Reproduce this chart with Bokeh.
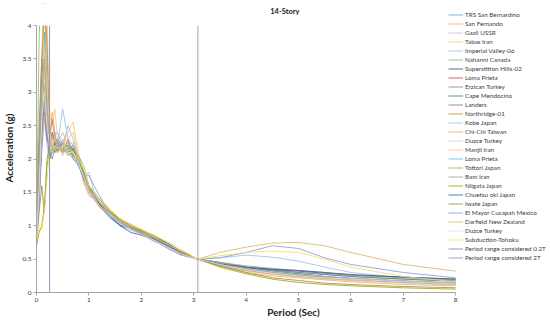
from bokeh.plotting import figure
from bokeh.models import Range1d, FixedTicker, NumeralTickFormatter, Legend, BoxAnnotation, Label
from bokeh.embed import file_html
from bokeh.resources import INLINE

periods = [0, 0.05, 0.1, 0.15, 0.2, 0.25, 0.3, 0.35, 0.4, 0.5, 0.6, 0.7, 0.8, 0.9, 1.0, 1.1, 1.2,
           1.4, 1.6, 1.8, 2.0, 2.25, 2.5, 2.75, 3.08, 3.5, 4.0, 4.5, 5.0, 5.5, 6.0, 7.0, 8.0]

names = ["TRS San Bernardino", "San Fernando", "Gazli USSR", "Tabas Iran", "Imperial Valley-06",
         "Nahanni Canada", "Superstition Hills-02", "Loma Prieta", "Erzican Turkey", "Cape Mendocino",
         "Landers", "Northridge-01", "Kobe Japan", "Chi-Chi Taiwan", "Duzce Turkey", "Manjil Iran",
         "Loma Prieta", "Tottori Japan", "Bam Iran", "Niigata Japan", "Chuetsu oki Japan", "Iwate Japan",
         "El Mayor Cucapah Mexico", "Darfield New Zealand", "Duzce Turkey", "Subduction-Tohoku"]

colors = ["#6FA8DC", "#F4A58A", "#C8C8C8", "#FFC870", "#9DC3E6", "#8CC168", "#44546A", "#C0504D",
          "#8C8C8C", "#31859C", "#7F7F7F", "#C09040", "#9DC3E6", "#F4A58A", "#D0D0D0", "#FFC870",
          "#5BC0DE", "#B0A070", "#A0A0A0", "#B0A000", "#4060B0", "#8C9850", "#8E9BE0", "#D9B870",
          "#E0E0E0", "#F0E060"]

s01 = [0.75,1.4,2.2,3.9,2.6,2.0,2.3,2.4,2.1,2.3,2.15,2.2,1.95,1.7,1.6,1.5,1.3,1.15,1.0,0.95,0.88,0.8,0.68,0.6,0.5,0.45,0.38,0.33,0.3,0.27,0.24,0.2,0.17]
s02 = [0.85,1.8,3.2,4.6,3.7,2.3,2.7,2.4,2.2,2.1,2.3,2.1,2.05,1.8,1.5,1.4,1.3,1.2,1.1,0.95,0.86,0.77,0.7,0.62,0.5,0.4,0.3,0.25,0.22,0.19,0.16,0.12,0.1]
s03 = [0.9,2.0,3.6,4.5,3.1,2.2,2.1,2.25,2.2,2.05,2.2,2.25,2.0,1.8,1.6,1.45,1.35,1.2,1.02,0.93,0.88,0.78,0.72,0.6,0.5,0.42,0.34,0.3,0.27,0.24,0.22,0.18,0.15]
s04 = [0.8,1.5,2.5,4.8,4.2,2.7,2.5,2.75,2.3,2.2,2.4,2.55,2.1,1.75,1.5,1.4,1.38,1.2,1.1,0.98,0.9,0.84,0.72,0.62,0.5,0.4,0.33,0.28,0.24,0.2,0.18,0.15,0.12]
s05 = [0.7,1.3,2.1,2.6,2.2,2.0,2.15,2.25,2.2,2.75,2.3,2.2,1.9,1.75,1.8,1.5,1.35,1.15,1.05,0.95,0.88,0.76,0.7,0.58,0.5,0.52,0.56,0.53,0.47,0.38,0.3,0.22,0.18]
s06 = [1.0,3.8,5.0,4.5,3.0,2.3,2.2,2.1,2.15,2.2,2.05,2.1,2.05,1.9,1.6,1.5,1.4,1.25,1.08,0.95,0.9,0.8,0.7,0.58,0.5,0.43,0.35,0.31,0.28,0.24,0.21,0.17,0.14]
s07 = [0.8,1.6,2.4,3.0,2.5,2.1,2.2,2.1,2.2,2.15,2.2,2.1,2.0,1.7,1.5,1.42,1.33,1.2,1.05,0.98,0.92,0.85,0.74,0.62,0.5,0.42,0.37,0.34,0.32,0.29,0.26,0.23,0.2]
s08 = [0.8,1.7,2.9,2.7,2.3,2.2,2.4,2.2,2.1,2.25,2.1,2.2,2.0,1.75,1.5,1.45,1.3,1.15,1.02,0.96,0.88,0.78,0.68,0.58,0.5,0.42,0.34,0.29,0.25,0.22,0.2,0.16,0.13]
s09 = [0.85,2.5,3.5,3.0,2.4,2.1,2.0,2.15,2.3,2.2,2.1,2.2,2.05,1.8,1.55,1.4,1.32,1.18,1.06,0.95,0.87,0.82,0.71,0.61,0.5,0.41,0.33,0.28,0.24,0.21,0.19,0.15,0.12]
s10 = [0.75,1.4,2.3,3.0,2.6,2.2,2.1,2.2,2.25,2.15,2.2,2.05,1.95,1.7,1.6,1.45,1.3,1.12,1.0,0.96,0.9,0.8,0.7,0.6,0.5,0.43,0.37,0.32,0.28,0.24,0.21,0.17,0.14]
s11 = [0.8,1.5,2.2,2.9,2.4,2.0,2.1,2.25,2.1,2.2,2.15,2.2,1.95,1.75,1.55,1.45,1.35,1.2,1.08,1.0,0.93,0.84,0.72,0.62,0.5,0.45,0.38,0.34,0.3,0.27,0.24,0.2,0.17]
s12 = [0.9,2.2,3.4,4.3,3.8,2.3,2.6,2.3,2.2,2.1,2.3,2.0,1.95,1.8,1.5,1.4,1.28,1.15,1.03,0.98,0.9,0.8,0.7,0.6,0.5,0.41,0.33,0.28,0.25,0.22,0.2,0.16,0.13]
s13 = [0.7,1.6,2.7,3.3,2.7,2.3,2.2,2.35,2.4,2.2,2.5,2.3,2.0,1.75,1.55,1.5,1.4,1.18,1.04,0.95,0.9,0.77,0.68,0.6,0.5,0.42,0.34,0.29,0.26,0.22,0.19,0.15,0.12]
s14 = [0.75,1.4,2.3,2.6,2.7,2.4,2.1,2.2,2.25,2.4,2.2,2.15,1.95,1.65,1.45,1.4,1.3,1.2,1.06,0.97,0.88,0.8,0.7,0.63,0.5,0.42,0.35,0.29,0.25,0.22,0.2,0.16,0.13]
s15 = [0.85,1.8,3.0,3.4,2.6,2.2,2.15,2.1,2.2,2.3,2.1,2.2,2.0,1.7,1.5,1.42,1.3,1.17,1.04,0.95,0.9,0.8,0.69,0.6,0.5,0.44,0.36,0.31,0.27,0.24,0.21,0.17,0.14]
s16 = [0.8,1.7,2.8,3.6,3.1,2.4,2.2,2.3,2.2,2.15,2.3,2.4,2.05,1.75,1.5,1.45,1.35,1.22,1.08,0.98,0.9,0.78,0.7,0.6,0.5,0.4,0.32,0.27,0.23,0.2,0.18,0.14,0.11]
s17 = [0.75,1.5,2.5,3.1,2.5,2.1,2.2,2.15,2.2,2.1,2.25,2.1,1.9,1.7,1.55,1.45,1.32,1.15,1.02,0.96,0.88,0.8,0.7,0.6,0.5,0.42,0.35,0.3,0.26,0.23,0.2,0.16,0.13]
s18 = [0.9,2.0,3.2,3.0,2.5,2.2,2.1,2.2,2.15,2.2,2.1,2.05,2.0,1.8,1.55,1.45,1.33,1.2,1.1,1.0,0.92,0.83,0.72,0.62,0.5,0.45,0.4,0.36,0.33,0.3,0.26,0.22,0.19]
s19 = [0.8,1.8,3.0,3.5,2.8,2.2,2.1,2.2,2.3,2.15,2.2,2.1,1.95,1.75,1.52,1.4,1.3,1.15,1.05,0.95,0.87,0.78,0.68,0.58,0.5,0.42,0.35,0.3,0.26,0.23,0.2,0.16,0.13]
s20 = [0.7,0.9,1.0,1.3,1.9,2.1,2.15,2.1,2.2,2.1,2.15,2.05,2.0,1.8,1.6,1.5,1.4,1.22,1.1,1.02,0.94,0.85,0.72,0.62,0.5,0.38,0.28,0.2,0.15,0.12,0.1,0.07,0.05]
s21 = [0.85,1.6,2.6,3.0,2.5,2.2,2.1,2.2,2.15,2.2,2.1,2.15,1.95,1.7,1.55,1.45,1.32,1.15,1.0,0.9,0.86,0.8,0.7,0.6,0.5,0.43,0.38,0.35,0.33,0.3,0.27,0.23,0.2]
s22 = [0.8,1.2,1.6,1.2,2.0,2.2,2.15,2.2,2.25,2.1,2.2,2.15,2.0,1.8,1.6,1.45,1.35,1.2,1.08,0.98,0.9,0.82,0.72,0.6,0.5,0.4,0.3,0.22,0.18,0.14,0.12,0.09,0.07]
s23 = [0.75,1.4,2.4,2.9,2.4,2.1,2.2,2.15,2.2,2.2,2.1,2.0,1.9,1.75,1.75,1.6,1.45,1.2,1.05,0.95,0.88,0.78,0.66,0.56,0.5,0.52,0.6,0.7,0.66,0.52,0.42,0.3,0.22]
s24 = [0.8,1.6,2.6,3.1,2.6,2.2,2.15,2.3,2.2,2.1,2.2,2.1,1.95,1.75,1.55,1.45,1.35,1.2,1.06,1.0,0.94,0.82,0.72,0.62,0.5,0.6,0.68,0.74,0.75,0.7,0.6,0.42,0.32]
s25 = [0.8,1.6,2.6,3.0,2.5,2.2,2.1,2.2,2.15,2.2,2.1,2.1,1.95,1.72,1.52,1.42,1.3,1.16,1.03,0.94,0.87,0.78,0.68,0.58,0.5,0.42,0.34,0.29,0.25,0.22,0.2,0.16,0.13]
s26 = [0.75,1.0,0.95,1.2,1.7,2.1,2.2,2.15,2.1,2.2,2.15,2.1,2.0,1.85,1.6,1.5,1.4,1.25,1.1,1.02,0.95,0.85,0.76,0.65,0.5,0.55,0.6,0.62,0.6,0.5,0.38,0.24,0.16]

series = [s01, s02, s03, s04, s05, s06, s07, s08, s09, s10, s11, s12, s13,
          s14, s15, s16, s17, s18, s19, s20, s21, s22, s23, s24, s25, s26]

range_names = ["Period range considered 0.2T", "Period range considered 2T"]
range_periods = [0.25, 3.08]
range_colors = ["#8E9BB5", "#A6A6A6"]

x_ticks = [0, 1, 2, 3, 4, 5, 6, 7, 8]
y_ticks = [0, 0.5, 1, 1.5, 2, 2.5, 3, 3.5, 4]

FONT = "Lato"

# the frame also holds the legend and title space; axes are bounded to 0..8 and 0..4
X_END = 9.8095
Y_END = 4.3296

p = figure(width=550, height=325, output_backend="svg", toolbar_location=None, title=None,
           x_range=Range1d(x_ticks[0], X_END), y_range=Range1d(y_ticks[0], Y_END),
           min_border_left=35, min_border_right=0, min_border_top=3, min_border_bottom=33)
p.outline_line_color = None
p.grid.visible = False

items = []
for name, col, ys in zip(names, colors, series):
    r = p.line(periods, ys, line_color=col, line_width=1, line_alpha=0.85)
    items.append((name, [r]))
for name, xv, col in zip(range_names, range_periods, range_colors):
    r = p.line([xv, xv], [y_ticks[0], y_ticks[-1]], line_color=col, line_width=1)
    items.append((name, [r]))

# mask everything above the top of the value axis (the chart is clipped at 4 g)
p.add_layout(BoxAnnotation(bottom=y_ticks[-1], top=Y_END + 1, fill_color="white", fill_alpha=1.0,
                           line_color=None, level="annotation"))

legend = Legend(items=items, location=(412, 30), orientation="vertical",
                label_text_font=FONT, label_text_font_size="6.3px", label_text_color="#404040",
                glyph_width=15, glyph_height=9, label_height=9, label_standoff=2,
                spacing=0, padding=0, margin=0, background_fill_alpha=0,
                border_line_color=None)
try:
    legend.glyph_height = 9.33
    legend.label_height = 9.33
    legend.location = (412, 27)
except Exception:
    pass
p.add_layout(legend, "center")

p.add_layout(Label(x=4.74, y=4.21, text="14-Story", text_align="center", text_baseline="middle",
                   text_font=FONT, text_font_size="7.5px", text_font_style="bold",
                   text_color="#222222"))

for ax in (p.xaxis[0], p.yaxis[0]):
    ax.axis_line_color = "#A6A6A6"
    ax.major_tick_line_color = "#A6A6A6"
    ax.major_tick_out = 3
    ax.major_tick_in = 0
    ax.minor_tick_line_color = None
    ax.major_label_text_font = FONT
    ax.major_label_text_font_size = "6.5px"
    ax.major_label_text_color = "#404040"
    ax.major_label_standoff = 2
    ax.axis_label_text_font = FONT
    ax.axis_label_text_font_size = "10px"
    ax.axis_label_text_font_style = "bold"
    ax.axis_label_text_color = "#222222"

p.xaxis.axis_label_standoff = 1
p.yaxis.axis_label_standoff = 4
p.xaxis.bounds = (x_ticks[0], x_ticks[-1])
p.yaxis.bounds = (y_ticks[0], y_ticks[-1])
p.xaxis.ticker = FixedTicker(ticks=x_ticks)
p.yaxis.ticker = FixedTicker(ticks=y_ticks)
p.yaxis.formatter = NumeralTickFormatter(format="0.[0]")
p.xaxis.axis_label = "Period (Sec)"
p.yaxis.axis_label = "Acceleration (g)"

open("out.html", "w").write(file_html(p, INLINE))
